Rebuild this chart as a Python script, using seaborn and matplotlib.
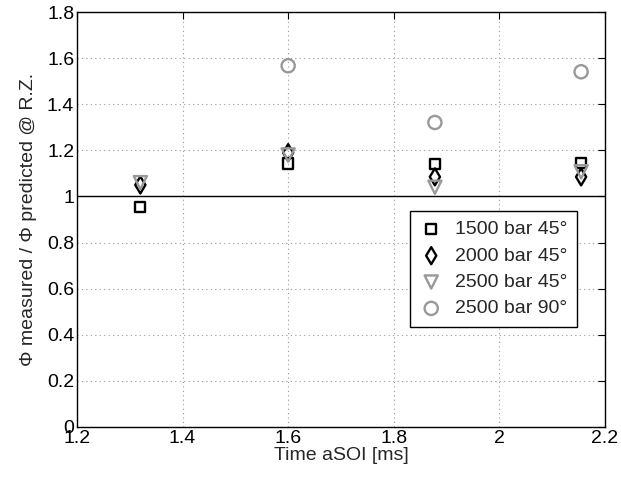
import numpy as np
import pandas as pd
import matplotlib
matplotlib.use("Agg")
import matplotlib.pyplot as plt
import seaborn as sns

# data
time_ms = [1.32, 1.60, 1.878, 2.155]
ratio_1500_45 = [0.955, 1.143, 1.14, 1.146]
ratio_2000_45 = [1.05, 1.19, 1.085, 1.085]
ratio_2500_45 = [1.06, 1.18, 1.04, 1.107]
ratio_2500_90 = [np.nan, 1.567, 1.321, 1.541]

series_labels = ["1500 bar 45°", "2000 bar 45°", "2500 bar 45°", "2500 bar 90°"]
markers = ["s", "d", "v", "o"]
colors = ["black", "black", "#999999", "#999999"]
sizes = [55, 75, 90, 90]

sns.set_style("white")
plt.rcParams["font.family"] = ["Liberation Sans", "DejaVu Sans"]

fig = plt.figure(figsize=(6.21, 4.83), dpi=100)
ax = fig.add_axes([0.124, 0.116, 0.850, 0.859])

all_vals = [ratio_1500_45, ratio_2000_45, ratio_2500_45, ratio_2500_90]
for vals, lab, m, c, s in zip(all_vals, series_labels, markers, colors, sizes):
    df = pd.DataFrame({"t": time_ms, "r": vals}).dropna()
    sns.scatterplot(data=df, x="t", y="r", marker=m, s=s, color=c,
                    facecolors="none", edgecolors=c, linewidth=1.7,
                    label=lab, ax=ax, zorder=3)

ax.axhline(1, color="black", lw=1.0, zorder=2)

ax.set_xlim(1.2, 2.2)
ax.set_ylim(0, 1.8)
ax.set_xticks([1.2, 1.4, 1.6, 1.8, 2.0, 2.2])
ax.set_yticks([0, 0.2, 0.4, 0.6, 0.8, 1.0, 1.2, 1.4, 1.6, 1.8])
ax.xaxis.set_major_formatter(matplotlib.ticker.FormatStrFormatter("%g"))
ax.yaxis.set_major_formatter(matplotlib.ticker.FormatStrFormatter("%g"))
ax.grid(True, color="#999999", linestyle=(0, (1, 3)), linewidth=0.8)
ax.tick_params(direction="in", length=5, width=0.8, top=True, right=True,
               labelsize=14, pad=2, colors="black")
for sp in ax.spines.values():
    sp.set_color("black")
    sp.set_linewidth(1.0)

ax.set_xlabel("Time aSOI [ms]", fontsize=14, labelpad=0)
ax.set_ylabel("Φ measured / Φ predicted @ R.Z.", fontsize=14, labelpad=7)

leg = ax.legend(loc="lower right", bbox_to_anchor=(0.965, 0.217), fontsize=14,
                frameon=True, fancybox=False, edgecolor="black", framealpha=1,
                handletextpad=0.6, labelspacing=0.45, borderpad=0.5,
                handlelength=1.2)
leg.get_frame().set_linewidth(1.0)

fig.savefig("out.png", dpi=100)
